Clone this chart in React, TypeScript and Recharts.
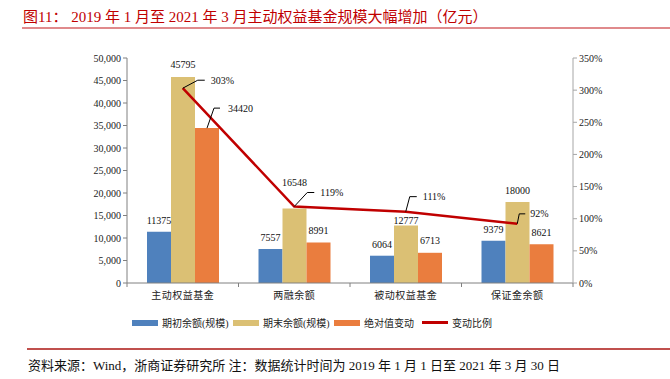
import React from "react";
import { Bar, ComposedChart, LabelList, Line, XAxis, YAxis } from "recharts";

const categories = ["主动权益基金", "两融余额", "被动权益基金", "保证金余额"];
const startBalance = [11375, 7557, 6064, 9379];
const endBalance = [45795, 16548, 12777, 18000];
const absChange = [34420, 8991, 6713, 8621];
const changeRatio = [303, 119, 111, 92];

const leftTicks = [0, 5000, 10000, 15000, 20000, 25000, 30000, 35000, 40000, 45000, 50000];
const rightTicks = [0, 50, 100, 150, 200, 250, 300, 350];

const seriesNames = ["期初余额(规模)", "期末余额(规模)", "绝对值变动", "变动比例"];

const BLUE = "#4f81bd";
const TAN = "#dbc074";
const ORANGE = "#ea7d3e";
const RED = "#c00000";
const FONT = "'Liberation Serif', 'Noto Sans CJK SC', serif";

const data = categories.map((name, i) => ({
  name,
  start: startBalance[i],
  end: endBalance[i],
  change: absChange[i],
  ratio: changeRatio[i],
}));

// leader-line offsets for the ratio labels: [elbow dx, elbow dy, end dx, text dx]
const ratioLeaders = [
  [15, -8, 22, 28],
  [13, -14, 20, 26],
  [4, -15, 11, 17],
  [2, -10, 8, 13],
];

// how far above the bar top the 期末 labels sit (some nudged to dodge the red line)
const endLabelLift = [12, 26, 5, 12];

function RatioLabel(props: any) {
  const { x, y, value, index } = props;
  const [ex, ey, hx, tx] = ratioLeaders[index];
  return (
    <g>
      <polyline
        points={`${x},${y} ${x + ex},${y + ey} ${x + hx},${y + ey}`}
        fill="none"
        stroke="#000"
        strokeWidth={1}
      />
      <text x={x + tx} y={y + ey} dy={3.5} fontSize={10} fontFamily={FONT} fill="#111">
        {value}%
      </text>
    </g>
  );
}

function EndLabel(props: any) {
  const { x, y, width, value, index } = props;
  return (
    <text
      x={x + width / 2}
      y={y - endLabelLift[index]}
      dy={3.5}
      textAnchor="middle"
      fontSize={10}
      fontFamily={FONT}
      fill="#111"
    >
      {value}
    </text>
  );
}

function ChangeLabel(props: any) {
  const { x, y, width, value, index } = props;
  const cx = x + width / 2;
  if (index === 0) {
    // first one sits off to the side with a leader
    return (
      <g>
        <polyline
          points={`${cx},${y} ${cx + 7},${y - 20} ${cx + 13},${y - 20}`}
          fill="none"
          stroke="#000"
          strokeWidth={1}
        />
        <text x={cx + 21} y={y - 20} dy={3.5} fontSize={10} fontFamily={FONT} fill="#111">
          {value}
        </text>
      </g>
    );
  }
  return (
    <text x={cx} y={y - 12} dy={3.5} textAnchor="middle" fontSize={10} fontFamily={FONT} fill="#111">
      {value}
    </text>
  );
}

function CategoryTick(props: any) {
  const { x, y, payload, index, width, visibleTicksCount } = props;
  const half = width / visibleTicksCount / 2;
  return (
    <g>
      <line x1={x - half} y1={y - 8} x2={x - half} y2={y - 4} stroke="#808080" />
      {index === visibleTicksCount - 1 && (
        <line x1={x + half} y1={y - 8} x2={x + half} y2={y - 4} stroke="#808080" />
      )}
      <text x={x} y={y + 8} textAnchor="middle" fontSize={10} fontFamily={FONT} fill="#222" letterSpacing={0.5}>
        {payload.value}
      </text>
    </g>
  );
}

const legendColors = [BLUE, TAN, ORANGE, RED];
const legendLefts = [132, 233, 334, 422];

export default function App() {
  return (
    <div style={{ position: "absolute", left: 0, top: 0, width: 670, height: 379, background: "#fff", fontFamily: FONT }}>
      <div style={{ position: "absolute", left: 23, top: 5, fontSize: 15, color: RED, whiteSpace: "nowrap" }}>
        图11： 2019 年 1 月至 2021 年 3 月主动权益基金规模大幅增加（亿元）
      </div>
      <div style={{ position: "absolute", left: 22, top: 27, width: 648, height: 2, background: "#e08a8c" }} />

      <ComposedChart
        width={670}
        height={313}
        data={data}
        margin={{ top: 58, right: 37, left: 67, bottom: 0 }}
        barGap={0}
      >
        <XAxis
          dataKey="name"
          height={30}
          axisLine={{ stroke: "#808080" }}
          tickLine={false}
          tick={<CategoryTick />}
          interval={0}
        />
        <YAxis
          yAxisId="left"
          width={60}
          domain={[0, 50000]}
          ticks={leftTicks}
          interval={0}
          tickFormatter={(v: number) => v.toLocaleString("en-US")}
          axisLine={{ stroke: "#808080" }}
          tickLine={{ stroke: "#808080" }}
          tickSize={4}
          tick={{ fontSize: 10, fontFamily: FONT, fill: "#222" }}
        />
        <YAxis
          yAxisId="right"
          orientation="right"
          width={60}
          domain={[0, 350]}
          ticks={rightTicks}
          interval={0}
          tickFormatter={(v: number) => `${v}%`}
          axisLine={{ stroke: "#a6a6a6" }}
          tickLine={{ stroke: "#a6a6a6" }}
          tickSize={4}
          tick={{ fontSize: 10, fontFamily: FONT, fill: "#222", textAnchor: "start" }}
        />
        <Bar yAxisId="left" dataKey="start" name={seriesNames[0]} fill={BLUE} barSize={24} isAnimationActive={false}>
          <LabelList dataKey="start" position="top" offset={8} fontSize={10} fontFamily={FONT} fill="#111" />
        </Bar>
        <Bar yAxisId="left" dataKey="end" name={seriesNames[1]} fill={TAN} barSize={24} isAnimationActive={false}>
          <LabelList dataKey="end" content={<EndLabel />} />
        </Bar>
        <Bar yAxisId="left" dataKey="change" name={seriesNames[2]} fill={ORANGE} barSize={24} isAnimationActive={false}>
          <LabelList dataKey="change" content={<ChangeLabel />} />
        </Bar>
        <Line
          yAxisId="right"
          dataKey="ratio"
          name={seriesNames[3]}
          stroke={RED}
          strokeWidth={2.5}
          dot={false}
          type="linear"
          isAnimationActive={false}
        >
          <LabelList dataKey="ratio" content={<RatioLabel />} />
        </Line>
      </ComposedChart>

      {seriesNames.map((name, i) => (
        <div
          key={name}
          style={{ position: "absolute", left: legendLefts[i], top: 315, display: "flex", alignItems: "center", fontSize: 10, color: "#222", whiteSpace: "nowrap" }}
        >
          <span style={{ display: "inline-block", width: 26, height: i === 3 ? 3 : 6, background: legendColors[i], marginRight: 4 }} />
          {name}
        </div>
      ))}

      <div style={{ position: "absolute", left: 27, top: 348, width: 643, height: 1.5, background: "#c0504d" }} />
      <div style={{ position: "absolute", left: 28, top: 355, fontSize: 13, color: "#111", whiteSpace: "nowrap" }}>
        资料来源：Wind，浙商证券研究所 注：数据统计时间为 2019 年 1 月 1 日至 2021 年 3 月 30 日
      </div>
    </div>
  );
}
